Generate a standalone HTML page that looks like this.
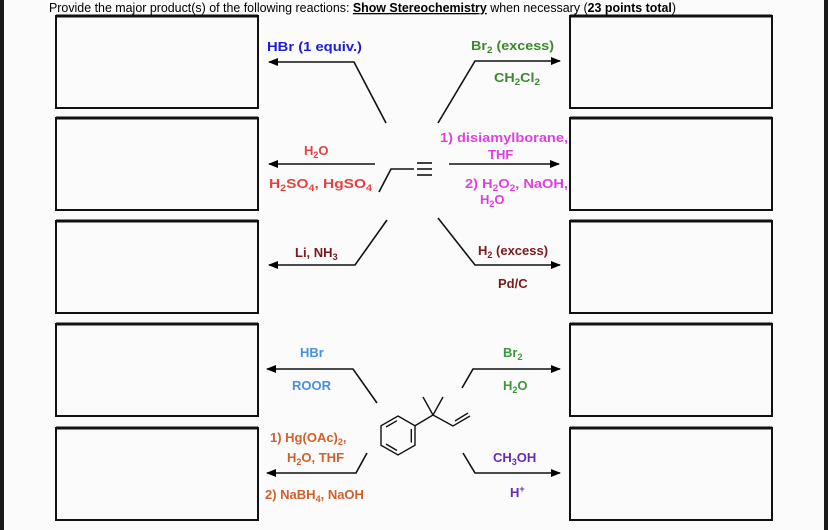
<!DOCTYPE html>
<html><head><meta charset="utf-8"><style>
html,body{margin:0;padding:0;background:#fbfbfb;}
svg{display:block;}
text{font-family:"Liberation Sans",Arial,sans-serif;font-weight:bold;font-size:13px;}
</style></head><body>
<svg width="828" height="530" viewBox="0 0 828 530" xmlns="http://www.w3.org/2000/svg">
<defs><marker id="a" markerWidth="10" markerHeight="8" refX="9" refY="4" orient="auto" markerUnits="userSpaceOnUse"><path d="M0,0 L10,4 L0,8 Z" fill="#000"/></marker></defs>
<rect x="0" y="0" width="828" height="530" fill="#fbfbfb"/>
<rect x="0" y="0" width="4" height="530" fill="#1a1a1a"/>
<rect x="824" y="0" width="4" height="530" fill="#1a1a1a"/>
<text x="49" y="12" textLength="627" lengthAdjust="spacingAndGlyphs" style="font-weight:normal" font-size="12">Provide the major product(s) of the following reactions: <tspan style="font-weight:bold" text-decoration="underline">Show Stereochemistry</tspan> when necessary (<tspan style="font-weight:bold">23 points total</tspan>)</text>
<g fill="none" stroke="#111" stroke-width="2">
<rect x="56" y="16" width="202" height="92"/><rect x="570" y="16" width="202" height="92"/>
<rect x="56" y="118" width="202" height="92"/><rect x="570" y="118" width="202" height="92"/>
<rect x="56" y="221" width="202" height="92"/><rect x="570" y="221" width="202" height="92"/>
<rect x="56" y="324" width="202" height="92"/><rect x="570" y="324" width="202" height="92"/>
<rect x="56" y="428" width="202" height="92"/><rect x="570" y="428" width="202" height="92"/>
</g>
<g stroke="#111" stroke-width="3"><line x1="56" y1="16" x2="258" y2="16"/><line x1="570" y1="16" x2="772" y2="16"/><line x1="56" y1="118" x2="258" y2="118"/><line x1="570" y1="118" x2="772" y2="118"/><line x1="56" y1="221" x2="258" y2="221"/><line x1="570" y1="221" x2="772" y2="221"/><line x1="56" y1="324" x2="258" y2="324"/><line x1="570" y1="324" x2="772" y2="324"/><line x1="56" y1="428" x2="258" y2="428"/><line x1="570" y1="428" x2="772" y2="428"/></g>
<g fill="none" stroke="#111" stroke-width="1.6">
<polyline points="386,123 354,62 269,62" marker-end="url(#a)"/>
<polyline points="438,123 475,61 560,61" marker-end="url(#a)"/>
<line x1="375" y1="164" x2="269" y2="164" marker-end="url(#a)"/>
<line x1="449" y1="164" x2="559" y2="164" marker-end="url(#a)"/>
<polyline points="387,220 355,265 269,265" marker-end="url(#a)"/>
<polyline points="438,218 475,265 560,265" marker-end="url(#a)"/>
<polyline points="377,403 353,369 267,369" marker-end="url(#a)"/>
<polyline points="462,388 473,369 560,369" marker-end="url(#a)"/>
<polyline points="367,453 356,473 267,473" marker-end="url(#a)"/>
<polyline points="463,453 475,473 560,473" marker-end="url(#a)"/>
<polyline points="379,192 391,169 414,169"/>
<line x1="417" y1="163" x2="432" y2="163"/><line x1="417" y1="169" x2="432" y2="169"/><line x1="417" y1="175" x2="432" y2="175"/>
</g>
<g fill="none" stroke="#111" stroke-width="1.4">
<polygon points="398,416 415,425.75 415,445.25 398,455 381,445.25 381,425.75"/>
<line x1="411.3" y1="429" x2="411.3" y2="442.5"/>
<line x1="397" y1="450.5" x2="386" y2="444"/>
<line x1="386" y1="427" x2="397" y2="420.7"/>
<polyline points="415,425.75 433,415 423,397"/>
<line x1="433" y1="415" x2="443" y2="397"/>
<polyline points="433,415 453,426 470,416"/>
<line x1="455" y1="421" x2="468" y2="413"/>
</g>
<text x="267" y="51" fill="#1d1dd6" textLength="95" lengthAdjust="spacingAndGlyphs">HBr (1 equiv.)</text>
<text x="471" y="50" fill="#3a8a2a" textLength="83" lengthAdjust="spacingAndGlyphs">Br<tspan font-size="9" dy="3">2</tspan><tspan dy="-3"> (excess)</tspan></text>
<text x="494" y="82" fill="#3a8a2a" textLength="46" lengthAdjust="spacingAndGlyphs">CH<tspan font-size="9" dy="3">2</tspan><tspan dy="-3">Cl</tspan><tspan font-size="9" dy="3">2</tspan></text>
<text x="440" y="142" fill="#e040e0" textLength="128" lengthAdjust="spacingAndGlyphs">1) disiamylborane,</text>
<text x="488" y="159" fill="#e040e0">THF</text>
<text x="465" y="188" fill="#e040e0" textLength="103" lengthAdjust="spacingAndGlyphs">2) H<tspan font-size="9" dy="3">2</tspan><tspan dy="-3">O</tspan><tspan font-size="9" dy="3">2</tspan><tspan dy="-3">, NaOH,</tspan></text>
<text x="480" y="204" fill="#e040e0">H<tspan font-size="9" dy="3">2</tspan><tspan dy="-3">O</tspan></text>
<text x="304" y="155" fill="#e84040">H<tspan font-size="9" dy="3">2</tspan><tspan dy="-3">O</tspan></text>
<text x="269" y="188" fill="#e84040" textLength="103" lengthAdjust="spacingAndGlyphs">H<tspan font-size="9" dy="3">2</tspan><tspan dy="-3">SO</tspan><tspan font-size="9" dy="3">4</tspan><tspan dy="-3">, HgSO</tspan><tspan font-size="9" dy="3">4</tspan></text>
<text x="295" y="257" fill="#7a1a1a">Li, NH<tspan font-size="9" dy="3">3</tspan></text>
<text x="478" y="255" fill="#7a1a1a">H<tspan font-size="9" dy="3">2</tspan><tspan dy="-3"> (excess)</tspan></text>
<text x="498" y="288" fill="#7a1a1a">Pd/C</text>
<text x="300" y="357" fill="#4a8fe0">HBr</text>
<text x="292" y="390" fill="#4a8fe0">ROOR</text>
<text x="503" y="357" fill="#3a9a3a">Br<tspan font-size="9" dy="3">2</tspan></text>
<text x="503" y="390" fill="#3a9a3a">H<tspan font-size="9" dy="3">2</tspan><tspan dy="-3">O</tspan></text>
<text x="270" y="442" fill="#d2602a">1) Hg(OAc)<tspan font-size="9" dy="3">2</tspan><tspan dy="-3">,</tspan></text>
<text x="287" y="462" fill="#d2602a">H<tspan font-size="9" dy="3">2</tspan><tspan dy="-3">O, THF</tspan></text>
<text x="265" y="499" fill="#d2602a">2) NaBH<tspan font-size="9" dy="3">4</tspan><tspan dy="-3">, NaOH</tspan></text>
<text x="493" y="462" fill="#6a2ab8">CH<tspan font-size="9" dy="3">3</tspan><tspan dy="-3">OH</tspan></text>
<text x="510" y="497" fill="#6a2ab8">H<tspan font-size="9" dy="-5">+</tspan></text>
</svg>
</body></html>
